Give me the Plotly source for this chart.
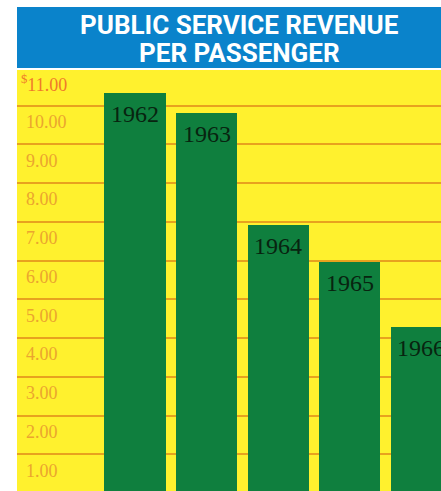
import plotly.graph_objects as go

years = [1962, 1963, 1964, 1965, 1966]
revenue = [10.32, 9.80, 6.92, 5.97, 4.28]
tick_vals = [1, 2, 3, 4, 5, 6, 7, 8, 9, 10, 11]
tick_text = ["1.00", "2.00", "3.00", "4.00", "5.00", "6.00", "7.00", "8.00", "9.00", "10.00", "<sup>$</sup>11.00"]
title_lines = ["PUBLIC SERVICE REVENUE", "PER PASSENGER"]

W, H = 441, 491
ML, MR, MT, MB = 17, 0, 70, 0
plot_h = H - MT - MB

def py(p):  # pixel y -> paper y
    return (H - MB - p) / plot_h

fig = go.Figure()
fig.add_trace(go.Bar(
    x=years, y=revenue, width=0.855,
    marker=dict(color="#0F7F3E", line=dict(width=0)),
    hoverinfo="skip",
))

ann = []
for yr, v in zip(years, revenue):
    ann.append(dict(x=yr, y=v, xref="x", yref="y", text=str(yr), showarrow=False,
                    yanchor="middle", yshift=-21,
                    font=dict(family="Liberation Serif, serif", size=24, color="#082410")))
for tv, tt in zip(tick_vals, tick_text):
    ann.append(dict(x=(24 - ML) / (W - ML - MR), xref="paper", y=tv - 0.42, yref="y",
                    text=tt, showarrow=False, xanchor="left", yanchor="middle",
                    xshift=-5 if tv == 11 else 0,
                    font=dict(family="Liberation Serif, serif", size=18,
                              color="#F07A2A" if tv == 11 else "#EBA52E")))
for i, line in enumerate(title_lines):
    ann.append(dict(x=(239 - ML) / (W - ML - MR), xref="paper", y=py(25 if i == 0 else 53.5), yref="paper",
                    text="<b>" + line + "</b>", showarrow=False, xanchor="center", yanchor="middle",
                    font=dict(family="Roboto, sans-serif", size=26, color="white")))

fig.update_layout(
    width=W, height=H,
    margin=dict(l=ML, r=MR, t=MT, b=MB, pad=0),
    paper_bgcolor="white", plot_bgcolor="#FFF12E",
    showlegend=False, bargap=0,
    xaxis=dict(range=[1960.352, 1966.274], showgrid=False, zeroline=False,
               showticklabels=False, ticks="", showline=False, fixedrange=True),
    yaxis=dict(range=[0.052, 10.92], tickvals=tick_vals, showticklabels=False, ticks="",
               showgrid=True, gridcolor="#E8A21E", gridwidth=2, zeroline=False,
               showline=False, fixedrange=True),
    shapes=[dict(type="rect", xref="paper", yref="paper", x0=0, x1=1.0,
                 y0=py(68), y1=py(7), fillcolor="#0A83CB", line=dict(width=0), layer="above")],
    annotations=ann,
)

fig.write_html("out.html", config={"displayModeBar": False})
